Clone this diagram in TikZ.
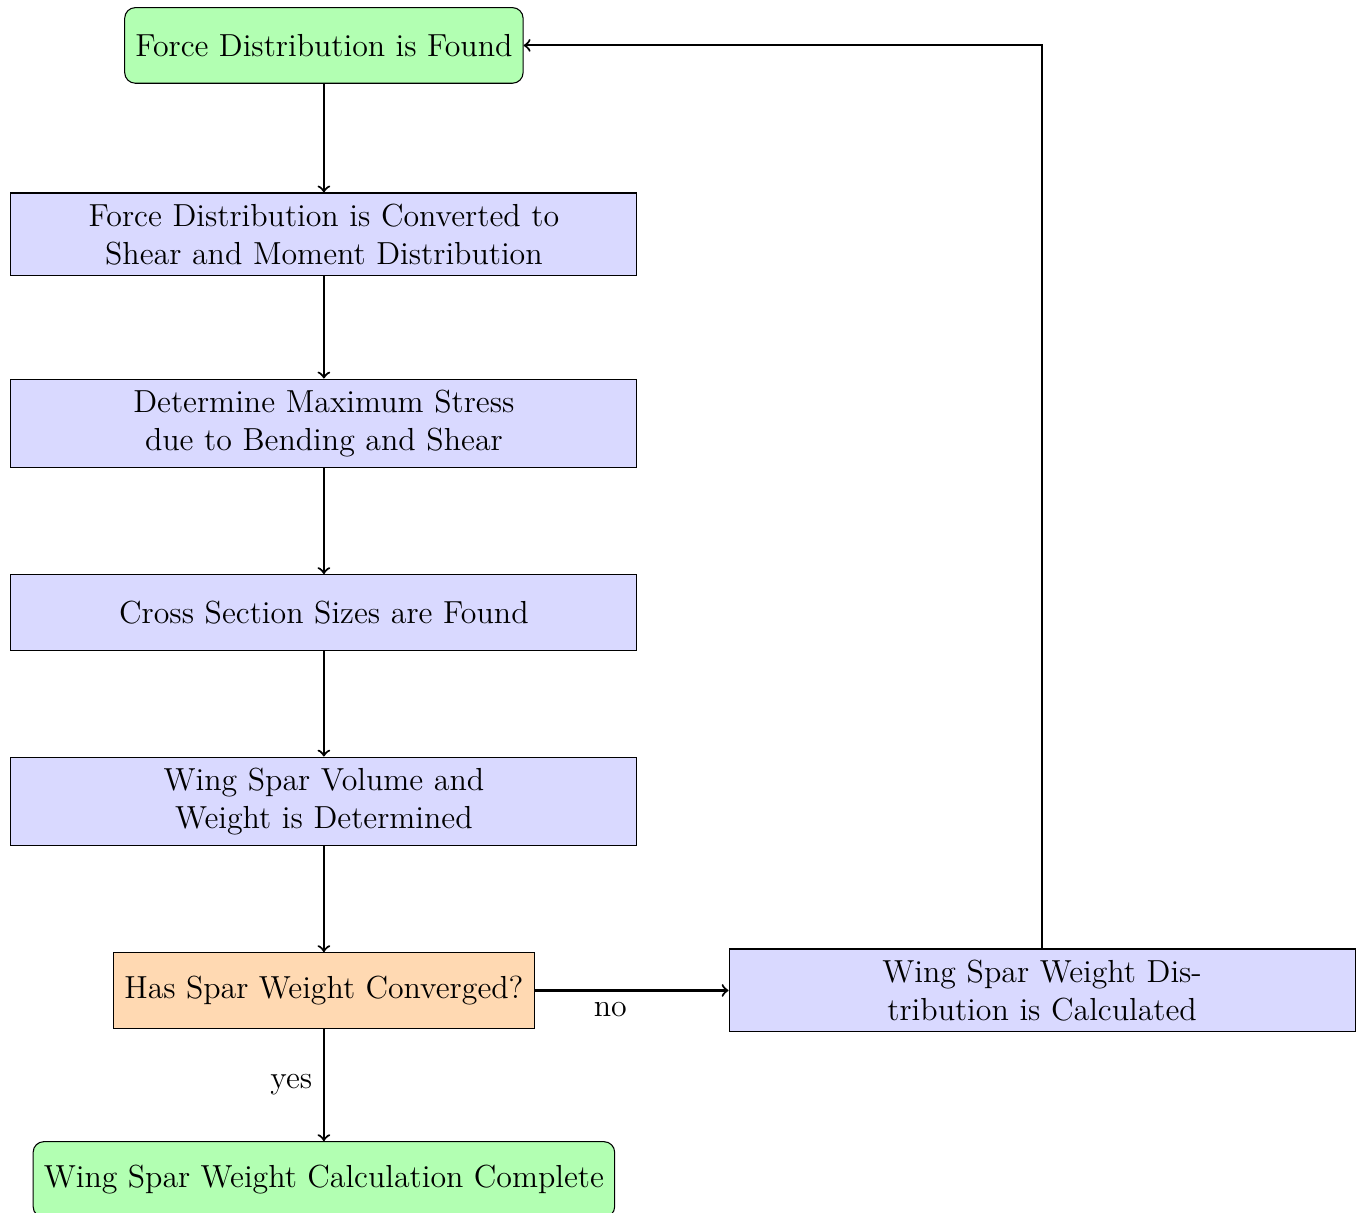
\documentclass[tikz,border=0pt,12pt]{standalone}
\usetikzlibrary{arrows}
\tikzset{
  startstop/.style={rectangle, rounded corners, draw, fill=green!30, minimum height=1cm, align=center},
  process/.style={rectangle, draw, fill=blue!15, text width=8cm, minimum height=1cm, align=center},
  decisionbox/.style={rectangle, draw, fill=orange!30, minimum height=1cm, align=center},
  flowarrow/.style={thick,->},
}
\begin{document}
\begin{tikzpicture}
\useasboundingbox (-121.9pt,17.1pt) rectangle (390.3pt,-439.4pt);
\node[startstop] (start) at (0,0) {Force Distribution is Found};
\node[process] (shear) at (0,-2.5cm) {Force Distribution is Converted to Shear and Moment Distribution};
\node[process] (stress) at (0,-5cm) {Determine Maximum Stress due to Bending and Shear};
\node[process] (cross) at (0,-7.5cm) {Cross Section Sizes are Found};
\node[process] (volume) at (0,-10cm) {Wing Spar Volume and Weight is Determined};
\node[decisionbox] (conv) at (0,-12.5cm) {Has Spar Weight Converged?};
\node[process] (dist) at (9.5cm,-12.5cm) {Wing Spar Weight Distribution is Calculated};
\node[startstop] (done) at (0,-15cm) {Wing Spar Weight Calculation Complete};
\draw[flowarrow] (start) -- (shear);
\draw[flowarrow] (shear) -- (stress);
\draw[flowarrow] (stress) -- (cross);
\draw[flowarrow] (cross) -- (volume);
\draw[flowarrow] (volume) -- (conv);
\draw[flowarrow] (conv) -- node[left] {yes} (done);
\draw[flowarrow] (conv) -- node[below, pos=0.39] {no} (dist);
\draw[flowarrow] (dist) |- (start);
\end{tikzpicture}
\end{document}
